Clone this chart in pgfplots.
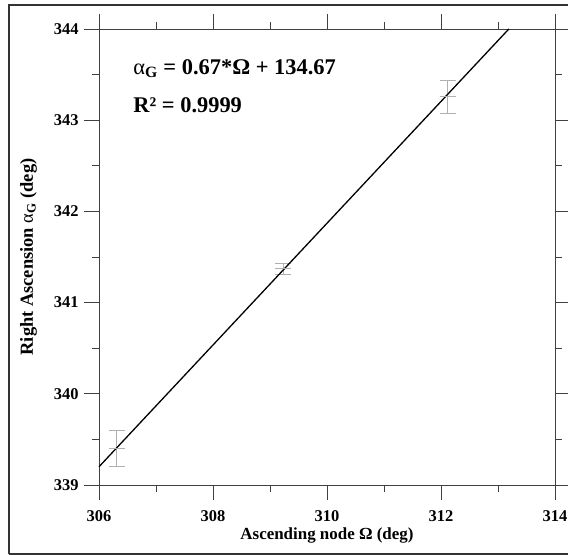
\documentclass[border=0pt]{standalone}
\usepackage{pgfplots}
\pgfplotsset{compat=1.18}
\usepackage{fontspec}
\setmainfont{Liberation Serif}
\definecolor{axgray}{HTML}{404040}
\definecolor{errgray}{HTML}{B0B0B0}
\begin{document}
\begin{tikzpicture}[x=1bp,y=1bp]
\useasboundingbox (-99bp,-70bp) rectangle (469bp,485bp);
\draw[line width=1.2bp, black!80] (-90bp,-69bp) -- (-90bp,480bp) -- (480bp,480bp);
\draw[line width=1.2bp, black!80] (-90bp,-69bp) -- (480bp,-69bp);
\begin{axis}[
  at={(0,0)}, anchor=south west,
  width=456bp, height=456bp, scale only axis,
  xmin=306, xmax=314, ymin=339, ymax=344,
  xtick={306,308,...,314}, ytick={339,340,...,344},
  minor tick num=1,
  tick align=outside,
  major tick length=15bp, minor tick length=7bp,
  axis line style={axgray, line width=0.9bp},
  every tick/.style={axgray, line width=0.9bp},
  xticklabel style={yshift=-7bp},
  yticklabel style={xshift=-2bp},
  ticklabel style={font=\fontsize{16.5}{18}\selectfont\bfseries},
  /pgf/number format/assume math mode=true,
  /pgf/number format/.cd, fixed, precision=0, 1000 sep={},
  /pgfplots/.cd,
  xlabel={\bfseries Ascending node Ω (deg)},
  ylabel={\bfseries Right Ascension {\mdseries α}\textsubscript{G} (deg)},
  xlabel style={font=\fontsize{17}{19}\selectfont, yshift=1bp},
  ylabel style={font=\fontsize{18.5}{20}\selectfont, yshift=10bp},
  clip=false,
]
\addplot[errgray, only marks, mark=-, mark size=8bp, mark options={line width=0.8bp},
  error bars/.cd, y dir=both, y explicit, error mark=|,
  error bar style={errgray, line width=0.8bp},
  error mark options={errgray, mark size=8bp, line width=0.8bp}]
  coordinates {
  (306.31,339.40) +- (0,0.20)
  (309.23,341.37) +- (0,0.06)
  (312.12,343.26) +- (0,0.18)
};
\addplot[black, line width=1.3bp] coordinates {(306,339.20) (313.19,344)};
\node[anchor=base west, font=\fontsize{22.5}{24}\selectfont\bfseries, inner sep=0pt] at (axis cs:306.6,343.50) {{\mdseries α}\textsubscript{G} = 0.67*Ω + 134.67};
\node[anchor=base west, font=\fontsize{22.5}{24}\selectfont\bfseries, inner sep=0pt] at (axis cs:306.6,343.08) {R² = 0.9999};
\end{axis}
\end{tikzpicture}
\end{document}
